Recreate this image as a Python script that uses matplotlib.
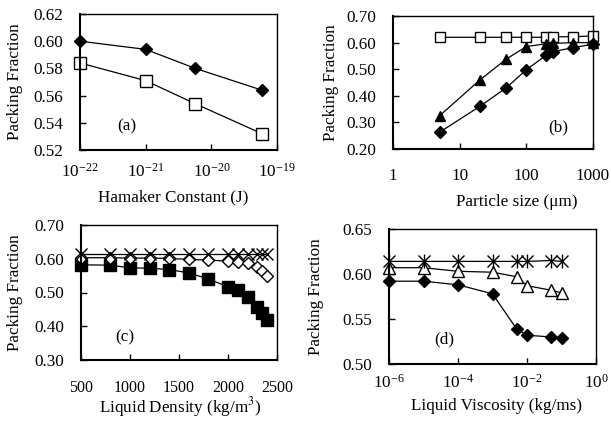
import matplotlib
matplotlib.use("Agg")
import matplotlib.pyplot as plt
from matplotlib.ticker import FixedLocator, FormatStrFormatter, NullLocator, FuncFormatter

plt.rcParams['font.family'] = ['Liberation Serif', 'DejaVu Serif']
plt.rcParams['mathtext.fontset'] = 'stix'
plt.rcParams['font.size'] = 12.3
plt.rcParams['axes.unicode_minus'] = False

# ---- data ----
# (a)
hamaker = [1e-22, 1e-21, 5.7e-21, 5.9e-20]
a_diamond = [0.600, 0.594, 0.580, 0.564]
a_square = [0.584, 0.571, 0.554, 0.532]

# (b)
particle_size = [5, 20, 50, 100, 200, 250, 500, 1000]
b_square = [0.620, 0.620, 0.620, 0.620, 0.620, 0.622, 0.622, 0.625]
b_triangle = [0.325, 0.459, 0.538, 0.585, 0.596, 0.597, 0.600, 0.600]
b_diamond = [0.263, 0.360, 0.430, 0.498, 0.553, 0.566, 0.581, 0.594]

# (c)
density = [500, 800, 1000, 1200, 1400, 1600, 1800, 2000, 2100, 2200, 2300, 2350, 2400]
c_cross = [0.615, 0.615, 0.615, 0.615, 0.615, 0.615, 0.615, 0.615, 0.615, 0.615, 0.615, 0.615, 0.615]
c_diamond = [0.603, 0.603, 0.602, 0.602, 0.601, 0.598, 0.596, 0.593, 0.590, 0.587, 0.576, 0.565, 0.548]
c_square = [0.582, 0.581, 0.573, 0.572, 0.568, 0.558, 0.540, 0.517, 0.507, 0.487, 0.457, 0.438, 0.418]

# (d)
viscosity = [1e-6, 1e-5, 1e-4, 1e-3, 5e-3, 1e-2, 5e-2, 1e-1]
d_star = [0.614, 0.614, 0.614, 0.614, 0.614, 0.614, 0.615, 0.614]
d_triangle = [0.607, 0.607, 0.603, 0.602, 0.597, 0.587, 0.582, 0.579]
d_diamond = [0.592, 0.592, 0.588, 0.578, 0.539, 0.532, 0.530, 0.529]

W, H = 611, 422
fig = plt.figure(figsize=(W / 100, H / 100), dpi=100)


def make_ax(l, r, t, b):
    return fig.add_axes([l / W, 1 - b / H, (r - l) / W, (b - t) / H])


def style(ax, xpad):
    for s in ['left', 'bottom']:
        ax.spines[s].set_linewidth(1.5)
    for s in ['top', 'right']:
        ax.spines[s].set_linewidth(1.0)
    ax.tick_params(axis='both', which='major', direction='in', length=4, width=1)
    ax.tick_params(axis='x', pad=xpad)
    ax.tick_params(axis='y', pad=12)
    ax.tick_params(which='minor', length=0)


line_kw = dict(color='black', lw=0.9, clip_on=False)
fill = dict(mfc='black', mec='black')
hollow = dict(mfc='white', mec='black', mew=1.0)

# ---- (a) ----
ax = make_ax(80, 277, 14, 150)
ax.plot(hamaker, a_diamond, marker='D', ms=6, **fill, **line_kw)
ax.plot(hamaker, a_square, marker='s', ms=8, **hollow, **line_kw)
ax.set_xscale('log')
ax.set_xlim(1e-22, 1e-19)
ax.set_ylim(0.52, 0.62)
ax.xaxis.set_major_locator(FixedLocator([1e-22, 1e-21, 1e-20, 1e-19]))
ax.xaxis.set_minor_locator(NullLocator())
ax.set_yticks([0.52, 0.54, 0.56, 0.58, 0.60, 0.62])
ax.yaxis.set_major_formatter(FormatStrFormatter('%.2f'))
style(ax, 9)
ax.set_xlabel('Hamaker Constant (J)')
ax.xaxis.set_label_coords(0.472, -0.29)
ax.set_ylabel('Packing Fraction')
ax.yaxis.set_label_coords(-0.29, 0.5)
ax.text(0.24, 0.17, '(a)', transform=ax.transAxes, ha='center', va='center')

# ---- (b) ----
ax = make_ax(393, 593, 16, 149)
ax.plot(particle_size, b_square, marker='s', ms=7.5, **hollow, **line_kw)
ax.plot(particle_size, b_triangle, marker='^', ms=7, **fill, **line_kw)
ax.plot(particle_size, b_diamond, marker='D', ms=6, **fill, **line_kw)
ax.set_xscale('log')
ax.set_xlim(1, 1000)
ax.set_ylim(0.20, 0.70)
ax.xaxis.set_major_locator(FixedLocator([1, 10, 100, 1000]))
ax.xaxis.set_minor_locator(NullLocator())
ax.xaxis.set_major_formatter(FuncFormatter(lambda v, p: '%d' % round(v)))
ax.set_yticks([0.2, 0.3, 0.4, 0.5, 0.6, 0.7])
ax.yaxis.set_major_formatter(FormatStrFormatter('%.2f'))
style(ax, 14)
ax.set_xlabel('Particle size (\u03bcm)')
ax.xaxis.set_label_coords(0.617, -0.335)
ax.set_ylabel('Packing Fraction')
ax.yaxis.set_label_coords(-0.27, 0.5)
ax.text(0.825, 0.165, '(b)', transform=ax.transAxes, ha='center', va='center')

# ---- (c) ----
ax = make_ax(81, 277, 225, 360)
ax.plot(density, c_square, marker='s', ms=8, **fill, **line_kw)
ax.plot(density, c_diamond, marker='D', ms=6, **hollow, **line_kw)
ax.plot(density, c_cross, marker='x', ms=8, mec='black', mew=1.0, **line_kw)
ax.set_xlim(500, 2500)
ax.set_ylim(0.30, 0.70)
ax.set_xticks([500, 1000, 1500, 2000, 2500])
ax.set_yticks([0.3, 0.4, 0.5, 0.6, 0.7])
ax.yaxis.set_major_formatter(FormatStrFormatter('%.2f'))
style(ax, 14.5)
ax.tick_params(axis='x', labelsize=11.5)
ax.set_xlabel('Liquid Density (kg/m$^3$)')
ax.xaxis.set_label_coords(0.505, -0.262)
ax.set_ylabel('Packing Fraction')
ax.yaxis.set_label_coords(-0.296, 0.5)
ax.text(0.224, 0.17, '(c)', transform=ax.transAxes, ha='center', va='center')

# ---- (d) ----
ax = make_ax(389, 596, 229, 364)
ax.plot(viscosity, d_diamond, marker='D', ms=6, **fill, **line_kw)
ax.plot(viscosity, d_triangle, marker='^', ms=8, **hollow, **line_kw)
ax.plot(viscosity, d_star, marker='x', ms=8, mec='black', mew=1.0, **line_kw)
ax.plot(viscosity, d_star, marker='|', ms=10, ls='none', mec='black', mew=1.0, clip_on=False)
ax.set_xscale('log')
ax.set_xlim(1e-6, 1)
ax.set_ylim(0.50, 0.65)
ax.xaxis.set_major_locator(FixedLocator([1e-6, 1e-4, 1e-2, 1]))
ax.xaxis.set_minor_locator(NullLocator())
ax.set_yticks([0.50, 0.55, 0.60, 0.65])
ax.yaxis.set_major_formatter(FormatStrFormatter('%.2f'))
style(ax, 7)
ax.set_xlabel('Liquid Viscosity (kg/ms)')
ax.xaxis.set_label_coords(0.52, -0.25)
ax.set_ylabel('Packing Fraction')
ax.yaxis.set_label_coords(-0.314, 0.5)
ax.text(0.266, 0.185, '(d)', transform=ax.transAxes, ha='center', va='center')

fig.savefig('out.png', dpi=100)
